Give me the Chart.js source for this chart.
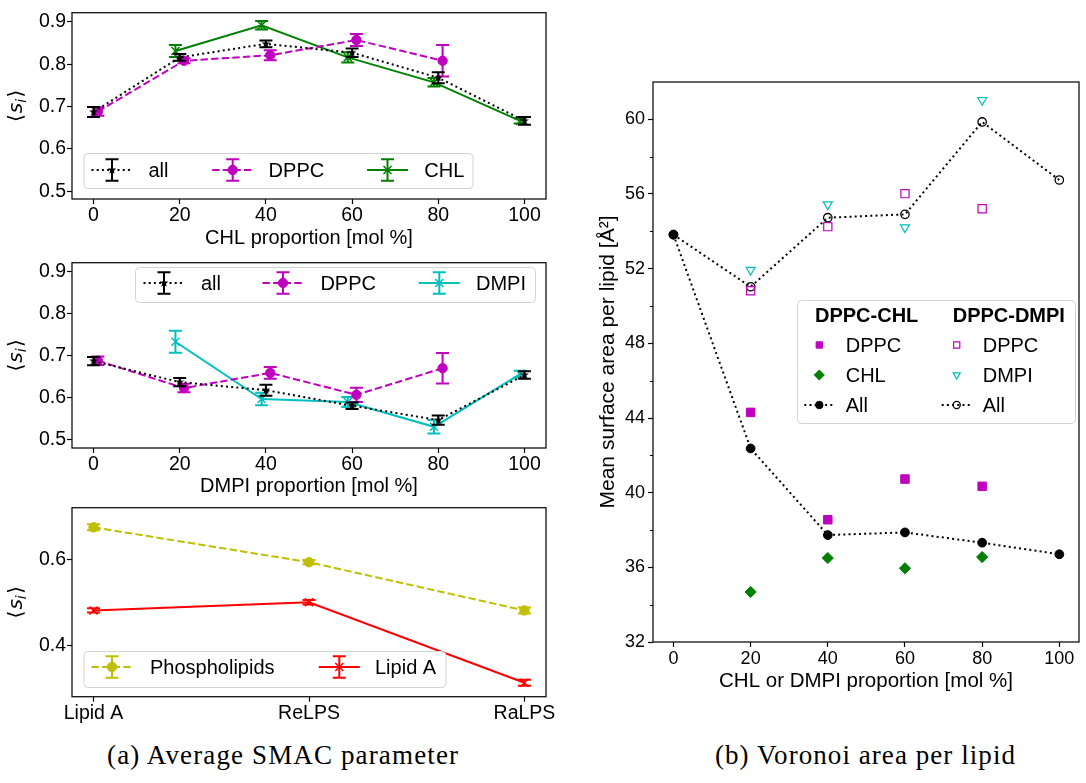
<!DOCTYPE html>
<html>
<head>
<meta charset="utf-8">
<script src="https://cdn.jsdelivr.net/npm/chart.js"></script>
<style>
html,body{margin:0;padding:0;background:#fff;}
body{width:1086px;height:783px;position:relative;overflow:hidden;}
canvas{position:absolute;}
.cap{position:absolute;font-family:"Liberation Serif","Times New Roman",serif;font-size:27px;line-height:27px;white-space:nowrap;color:#000;}
</style>
</head>
<body>
<canvas id="c1" width="560" height="252" style="left:0;top:0"></canvas>
<canvas id="c2" width="560" height="260" style="left:0;top:250px"></canvas>
<canvas id="c3" width="560" height="235" style="left:0;top:495px"></canvas>
<canvas id="c4" width="496" height="700" style="left:590px;top:0"></canvas>
<div class="cap" id="capA">(a) Average SMAC parameter</div>
<div class="cap" id="capB">(b) Voronoi area per lipid</div>
<script>
// ---------------- data ----------------
const proportion = [0, 20, 40, 60, 80, 100];
const propTicks = [0, 20, 40, 60, 80, 100];
const siTicks = [0.5, 0.6, 0.7, 0.8, 0.9];

// (a) top: DPPC-CHL mixtures
const chlAll      = [0.687, 0.816, 0.848, 0.827, 0.768, 0.666];
const chlAllErr   = [0.012, 0.008, 0.008, 0.010, 0.013, 0.009];
const chlDPPC     = [0.688, 0.808, 0.821, 0.857, 0.808, null];
const chlDPPCErr  = [0.010, 0.006, 0.012, 0.014, 0.037, null];
const chlCHL      = [null, 0.831, 0.892, 0.816, 0.757, 0.666];
const chlCHLErr   = [null, 0.014, 0.010, 0.012, 0.010, 0.006];

// (a) middle: DPPC-DMPI mixtures
const dmpiAll     = [0.687, 0.637, 0.618, 0.581, 0.547, 0.654];
const dmpiAllErr  = [0.010, 0.010, 0.013, 0.008, 0.011, 0.009];
const dmpiDPPC    = [0.688, 0.623, 0.659, 0.607, 0.670, null];
const dmpiDPPCErr = [0.010, 0.010, 0.014, 0.017, 0.036, null];
const dmpiDMPI    = [null, 0.733, 0.597, 0.590, 0.531, 0.656];
const dmpiDMPIErr = [null, 0.026, 0.015, 0.012, 0.016, 0.008];

// (a) bottom: LPS systems
const systems = ['Lipid A', 'ReLPS', 'RaLPS'];
const systemIdx = [0, 1, 2];
const lpsTicks = [0.4, 0.6];
const lpsPhospho    = [0.675, 0.594, 0.482];
const lpsPhosphoErr = [0.007, 0.005, 0.007];
const lpsLipidA     = [0.482, 0.501, 0.314];
const lpsLipidAErr  = [0.005, 0.005, 0.007];

// (b) Voronoi area per lipid
const areaTicks = [32, 36, 40, 44, 48, 52, 56, 60];
const areaMinorTicks = [34, 38, 42, 46, 50, 54, 58];
const chlAreaDPPC  = [null, 44.30, 38.55, 40.73, 40.34, null];
const chlAreaCHL   = [null, 34.68, 36.50, 35.95, 36.55, null];
const chlAreaAll   = [53.82, 42.37, 37.73, 37.87, 37.32, 36.70];
const dmpiAreaDPPC = [null, 50.82, 54.25, 56.02, 55.21, null];
const dmpiAreaDMPI = [null, 51.93, 55.44, 54.21, 61.03, null];
const dmpiAreaAll  = [53.82, 51.03, 54.73, 54.91, 59.86, 56.75];

// ---------------- style ----------------
const FONT = '"Liberation Sans", Arial, Helvetica, sans-serif';
Chart.defaults.font.family = FONT;
Chart.defaults.color = '#000';
Chart.defaults.animation = false;
Chart.defaults.events = [];
Chart.defaults.plugins.legend.display = false;
Chart.defaults.plugins.tooltip.enabled = false;

const COL = { black: '#000000', magenta: '#bf00bf', green: '#008000', cyan: '#00bfbf', olive: '#bfbf00', red: '#ff0000' };
const DOT = [2, 3.2], DASH = [7.4, 3.2];
const NONE = 'rgba(0,0,0,0)';

function starImage(color, ro, ri) {
  const s = Math.ceil(ro * 2 + 2);
  const c = document.createElement('canvas'); c.width = c.height = s;
  const g = c.getContext('2d'); g.fillStyle = color; g.beginPath();
  for (let k = 0; k < 10; k++) {
    const r = k % 2 ? ri : ro; const a = -Math.PI / 2 + k * Math.PI / 5;
    g.lineTo(s / 2 + r * Math.cos(a), s / 2 + r * Math.sin(a));
  }
  g.closePath(); g.fill(); return c;
}
const STAR = starImage('#000', 4.6, 1.9);

function pts(xs, ys, errs, off) {
  const out = [];
  xs.forEach((x, i) => { if (ys[i] !== null) out.push({ x: x + off, y: ys[i], e: errs ? errs[i] : null }); });
  return out;
}
function ds(label, data, o) {
  return Object.assign({
    label, data, showLine: true, borderColor: o.color, backgroundColor: o.color,
    borderWidth: 2, borderDash: o.dash || [], pointStyle: 'circle', pointRadius: 4.7,
    pointBackgroundColor: o.color, pointBorderColor: o.color, pointBorderWidth: 1, tension: 0
  }, o.extra || {});
}

// ---------------- plugins ----------------
const errorBars = {
  id: 'errorBars',
  afterDatasetDraw(chart, args) {
    const d = chart.data.datasets[args.index];
    const ys = chart.scales.y, ctx = chart.ctx;
    ctx.save(); ctx.strokeStyle = d.borderColor; ctx.setLineDash([]);
    args.meta.data.forEach((p, j) => {
      const v = d.data[j]; if (v.e == null) return;
      const y1 = ys.getPixelForValue(v.y + v.e), y2 = ys.getPixelForValue(v.y - v.e);
      ctx.lineWidth = 2;
      ctx.beginPath(); ctx.moveTo(p.x, y1); ctx.lineTo(p.x, y2); ctx.stroke();
      ctx.lineWidth = 2;
      ctx.beginPath();
      ctx.moveTo(p.x - 6.5, y1); ctx.lineTo(p.x + 6.5, y1);
      ctx.moveTo(p.x - 6.5, y2); ctx.lineTo(p.x + 6.5, y2);
      ctx.stroke();
    });
    ctx.restore();
  }
};
const frame = {
  id: 'frame',
  afterDatasetsDraw(chart) {
    const a = chart.chartArea, ctx = chart.ctx;
    ctx.save(); ctx.strokeStyle = '#111'; ctx.lineWidth = 1.3; ctx.setLineDash([]);
    ctx.strokeRect(a.left, a.top, a.right - a.left, a.bottom - a.top);
    ctx.restore();
  }
};
function marker(ctx, d, x, y, scale) {
  const style = d.pointStyle, r = d.pointRadius * (scale || 1);
  ctx.save(); ctx.setLineDash([]);
  ctx.fillStyle = d.pointBackgroundColor; ctx.strokeStyle = d.pointBorderColor; ctx.lineWidth = d.pointBorderWidth;
  if (style instanceof HTMLCanvasElement) { ctx.drawImage(style, x - style.width / 2, y - style.height / 2); ctx.restore(); return; }
  ctx.beginPath();
  const rot = (d.pointRotation || 0) * Math.PI / 180;
  if (style === 'rect') { const h = r * Math.SQRT1_2; ctx.rect(x - h, y - h, 2 * h, 2 * h); }
  else if (style === 'rectRot') { ctx.moveTo(x, y - r); ctx.lineTo(x + r, y); ctx.lineTo(x, y + r); ctx.lineTo(x - r, y); ctx.closePath(); }
  else if (style === 'triangle') {
    for (let k = 0; k < 3; k++) { const a = rot + k * 2 * Math.PI / 3; const px = x + Math.sin(a) * r, py = y - Math.cos(a) * r; if (k) ctx.lineTo(px, py); else ctx.moveTo(px, py); }
    ctx.closePath();
  } else if (style === 'crossRot') {
    const h = r * Math.SQRT1_2;
    ctx.moveTo(x - h, y - h); ctx.lineTo(x + h, y + h); ctx.moveTo(x - h, y + h); ctx.lineTo(x + h, y - h);
    ctx.stroke(); ctx.restore(); return;
  } else { ctx.arc(x, y, r, 0, 2 * Math.PI); }
  ctx.fill(); ctx.stroke(); ctx.restore();
}
function legendBox(ctx, b) {
  ctx.save(); ctx.beginPath();
  ctx.roundRect(b.x + 0.5, b.y + 0.5, b.w, b.h, 4);
  ctx.fillStyle = 'rgba(255,255,255,0.8)'; ctx.fill();
  ctx.strokeStyle = '#d3d3d3'; ctx.lineWidth = 1; ctx.stroke(); ctx.restore();
}
function errLegend(cfg) {
  return {
    id: 'errLegend',
    afterDraw(chart) {
      const ctx = chart.ctx; legendBox(ctx, cfg.box);
      cfg.items.forEach(([i, cx, tx]) => {
        const d = chart.data.datasets[i], cy = cfg.cy;
        ctx.save();
        ctx.strokeStyle = d.borderColor; ctx.lineWidth = d.borderWidth; ctx.setLineDash(d.borderDash);
        ctx.beginPath(); ctx.moveTo(cx - 20.5, cy); ctx.lineTo(cx + 20.5, cy); ctx.stroke();
        ctx.setLineDash([]); ctx.lineWidth = 2;
        ctx.beginPath(); ctx.moveTo(cx, cy - 10.8); ctx.lineTo(cx, cy + 10.8);
        ctx.moveTo(cx - 6.5, cy - 10.8); ctx.lineTo(cx + 6.5, cy - 10.8);
        ctx.moveTo(cx - 6.5, cy + 10.8); ctx.lineTo(cx + 6.5, cy + 10.8); ctx.stroke();
        ctx.restore();
        marker(ctx, d, cx, cy);
        ctx.save(); ctx.fillStyle = '#000'; ctx.font = '20px ' + FONT; ctx.textBaseline = 'middle'; ctx.textAlign = 'left';
        ctx.fillText(d.label, tx, cy + 1); ctx.restore();
      });
    }
  };
}
const siLabel = {
  id: 'siLabel',
  afterDraw(chart) {
    const a = chart.chartArea, ctx = chart.ctx, cy = (a.top + a.bottom) / 2;
    ctx.save(); ctx.translate(22, cy); ctx.rotate(-Math.PI / 2); ctx.fillStyle = '#000'; ctx.textBaseline = 'alphabetic';
    const parts = [['\u27E8', '20px "DejaVu Sans"', 0, 1], ['s', 'oblique 20px "DejaVu Sans"', 0, 0], ['i', 'oblique 14px "DejaVu Sans"', 3.5, 1.5], ['\u27E9', '20px "DejaVu Sans"', 0, 0]];
    let w = 0; parts.forEach(p => { ctx.font = p[1]; p.w = ctx.measureText(p[0]).width + p[3]; w += p.w; });
    let u = -w / 2; parts.forEach(p => { ctx.font = p[1]; ctx.fillText(p[0], u, p[2]); u += p.w; });
    ctx.restore();
  }
};

// ---------------- axes ----------------
function axis(o) {
  const a = {
    type: 'linear', position: o.pos, min: o.min, max: o.max,
    afterBuildTicks: s => { s.ticks = o.ticks.map(v => ({ value: v })); },
    afterFit: s => { if (o.pos === 'bottom') s.height = o.size; else s.width = o.size; },
    ticks: { font: { size: o.tickSize }, padding: o.tickPad, maxRotation: 0, autoSkip: false, color: '#000', callback: o.fmt },
    grid: { display: true, drawOnChartArea: false, drawTicks: true, tickLength: 5, tickWidth: 1.2, color: '#000' },
    border: { display: false },
    title: { display: false }
  };
  if (o.title) a.title = { display: true, text: o.title, color: '#000', font: { size: o.titleSize || 20 }, padding: o.titlePad };
  return a;
}
const fmt1 = v => v.toFixed(1);
const fmt0 = v => String(v);

// ---------------- (a) top ----------------
new Chart(document.getElementById('c1'), {
  type: 'scatter',
  data: { datasets: [
    ds('all', pts(proportion, chlAll, chlAllErr, 0), { color: COL.black, dash: DOT, extra: { pointStyle: STAR, pointRadius: 4 } }),
    ds('DPPC', pts(proportion, chlDPPC, chlDPPCErr, 1), { color: COL.magenta, dash: DASH }),
    ds('CHL', pts(proportion, chlCHL, chlCHLErr, -1), { color: COL.green, extra: { pointStyle: 'crossRot', pointRadius: 5.7, pointBorderWidth: 1.5 } })
  ] },
  options: {
    responsive: false, devicePixelRatio: 1,
    layout: { padding: { top: 8, right: 14, left: 0, bottom: 0 } },
    scales: {
      x: axis({ pos: 'bottom', min: -5, max: 105, ticks: propTicks, fmt: fmt0, size: 53, tickSize: 19.5, tickPad: 0, title: 'CHL proportion [mol %]', titlePad: { top: 0, bottom: 1.7 } }),
      y: axis({ pos: 'left', min: 0.4815, max: 0.9215, ticks: siTicks, fmt: fmt1, size: 72, tickSize: 19.5, tickPad: 1 })
    }
  },
  plugins: [errorBars, frame, siLabel, errLegend({ box: { x: 83.5, y: 153, w: 389, h: 35 }, cy: 170, items: [[0, 112, 148.5], [1, 232.7, 268.6], [2, 387.5, 424.3]] })]
});

// ---------------- (a) middle ----------------
new Chart(document.getElementById('c2'), {
  type: 'scatter',
  data: { datasets: [
    ds('all', pts(proportion, dmpiAll, dmpiAllErr, 0), { color: COL.black, dash: DOT, extra: { pointStyle: STAR, pointRadius: 4 } }),
    ds('DPPC', pts(proportion, dmpiDPPC, dmpiDPPCErr, 1), { color: COL.magenta, dash: DASH }),
    ds('DMPI', pts(proportion, dmpiDMPI, dmpiDMPIErr, -1), { color: COL.cyan, extra: { pointStyle: 'crossRot', pointRadius: 5.7, pointBorderWidth: 1.5 } })
  ] },
  options: {
    responsive: false, devicePixelRatio: 1,
    layout: { padding: { top: 7, right: 14, left: 0, bottom: 0 } },
    scales: {
      x: axis({ pos: 'bottom', min: -5, max: 105, ticks: propTicks, fmt: fmt0, size: 62, tickSize: 19.5, tickPad: 0, title: 'DMPI proportion [mol %]', titlePad: { top: 0, bottom: 11.3 } }),
      y: axis({ pos: 'left', min: 0.4807, max: 0.9206, ticks: siTicks, fmt: fmt1, size: 72, tickSize: 19.5, tickPad: 1 })
    }
  },
  plugins: [errorBars, frame, siLabel, errLegend({ box: { x: 135, y: 17, w: 400, h: 35 }, cy: 33, items: [[0, 164, 201], [1, 283, 320.4], [2, 439.3, 476]] })]
});

// ---------------- (a) bottom ----------------
new Chart(document.getElementById('c3'), {
  type: 'scatter',
  data: { datasets: [
    ds('Phospholipids', pts(systemIdx, lpsPhospho, lpsPhosphoErr, 0), { color: COL.olive, dash: DASH }),
    ds('Lipid A', pts(systemIdx, lpsLipidA, lpsLipidAErr, 0), { color: COL.red, extra: { pointStyle: 'crossRot', pointRadius: 5.7, pointBorderWidth: 1.5 } })
  ] },
  options: {
    responsive: false, devicePixelRatio: 1,
    layout: { padding: { top: 10, right: 14, left: 0, bottom: 0 } },
    scales: {
      x: axis({ pos: 'bottom', min: -0.1, max: 2.1, ticks: systemIdx, fmt: v => systems[v], size: 33.3, tickSize: 19.5, tickPad: 0 }),
      y: axis({ pos: 'left', min: 0.2817, max: 0.7206, ticks: lpsTicks, fmt: fmt1, size: 72, tickSize: 19.5, tickPad: 1 })
    }
  },
  plugins: [errorBars, frame, siLabel, errLegend({ box: { x: 83.5, y: 156, w: 362, h: 36 }, cy: 172, items: [[0, 112, 150], [1, 339.3, 375]] })]
});

// ---------------- (b) ----------------
const minorTicks = {
  id: 'minorTicks',
  afterDraw(chart) {
    const ys = chart.scales.y, a = chart.chartArea, ctx = chart.ctx;
    ctx.save(); ctx.strokeStyle = '#000'; ctx.lineWidth = 1;
    areaMinorTicks.forEach(v => { const y = Math.round(ys.getPixelForValue(v)) + 0.5; ctx.beginPath(); ctx.moveTo(a.left, y); ctx.lineTo(a.left - 3, y); ctx.stroke(); });
    ctx.restore();
  }
};
const areaLegend = {
  id: 'areaLegend',
  afterDraw(chart) {
    const ctx = chart.ctx;
    legendBox(ctx, { x: 207, y: 300, w: 278, h: 123 });
    ctx.save(); ctx.fillStyle = '#000'; ctx.textBaseline = 'middle'; ctx.textAlign = 'left';
    ctx.font = 'bold 20px ' + FONT;
    ctx.fillText('DPPC-CHL', 225, 316); ctx.fillText('DPPC-DMPI', 362.7, 316);
    ctx.font = '20px ' + FONT;
    const items = [[0, 229.3, 255.7, 345, 0.75], [1, 229.3, 255.7, 375, 0.9], [2, 229.3, 255.7, 405, 0.85], [3, 366.7, 392.7, 345, 0.75], [4, 366.7, 392.7, 375, 0.8], [5, 366.7, 392.7, 405, 0.85]];
    items.forEach(([i, mx, tx, y, sc]) => {
      const d = chart.data.datasets[i];
      if (d.showLine) {
        ctx.save(); ctx.strokeStyle = d.borderColor; ctx.lineWidth = d.borderWidth; ctx.setLineDash(d.borderDash);
        ctx.beginPath(); ctx.moveTo(mx - 15, y); ctx.lineTo(mx + 15, y); ctx.stroke(); ctx.restore();
      }
      marker(ctx, d, mx, y, sc);
      ctx.fillStyle = '#000'; ctx.fillText(d.legendText, tx, y + 1);
    });
    ctx.restore();
  }
};
new Chart(document.getElementById('c4'), {
  type: 'scatter',
  data: { datasets: [
    ds('DPPC-CHL DPPC', pts(proportion, chlAreaDPPC, null, 0), { color: COL.magenta, extra: { showLine: false, pointStyle: 'rect', pointRadius: 6, legendText: 'DPPC' } }),
    ds('DPPC-CHL CHL', pts(proportion, chlAreaCHL, null, 0), { color: COL.green, extra: { showLine: false, pointStyle: 'rectRot', pointRadius: 5.6, legendText: 'CHL' } }),
    ds('DPPC-CHL All', pts(proportion, chlAreaAll, null, 0), { color: COL.black, dash: DOT, extra: { pointRadius: 4.4, legendText: 'All' } }),
    ds('DPPC-DMPI DPPC', pts(proportion, dmpiAreaDPPC, null, 0), { color: COL.magenta, extra: { showLine: false, pointStyle: 'rect', pointRadius: 5.8, pointBackgroundColor: NONE, pointBorderWidth: 1.2, legendText: 'DPPC' } }),
    ds('DPPC-DMPI DMPI', pts(proportion, dmpiAreaDMPI, null, 0), { color: COL.cyan, extra: { showLine: false, pointStyle: 'triangle', pointRotation: 180, pointRadius: 5.2, pointBackgroundColor: NONE, pointBorderWidth: 1.2, legendText: 'DMPI' } }),
    ds('DPPC-DMPI All', pts(proportion, dmpiAreaAll, null, 0), { color: COL.black, dash: DOT, extra: { pointRadius: 4.2, pointBackgroundColor: NONE, pointBorderWidth: 1.3, legendText: 'All' } })
  ] },
  options: {
    responsive: false, devicePixelRatio: 1,
    layout: { padding: { top: 82, right: 1, left: 0, bottom: 0 } },
    scales: {
      x: axis({ pos: 'bottom', min: -5.3, max: 105.1, ticks: propTicks, fmt: fmt0, size: 58, tickSize: 18, tickPad: 0.8, title: 'CHL or DMPI proportion [mol %]', titleSize: 20.5, titlePad: { top: 0, bottom: 6.3 } }),
      y: axis({ pos: 'left', min: 32, max: 62, ticks: areaTicks, fmt: fmt0, size: 63, tickSize: 18, tickPad: 3, title: 'Mean surface area per lipid [Å²]', titleSize: 21, titlePad: { top: 5.5, bottom: 0 } })
    }
  },
  plugins: [frame, minorTicks, areaLegend]
});

// ---------------- captions ----------------
function placeCaption(id, left, right, baseline) {
  const el = document.getElementById(id);
  const w0 = el.getBoundingClientRect().width;
  const n = el.textContent.length;
  el.style.letterSpacing = (((right - left) - w0) / (n - 1)) + 'px';
  el.style.left = left + 'px';
  el.style.top = (baseline - 22.6) + 'px';
}
placeCaption('capA', 107, 458, 765);
placeCaption('capB', 715, 1015, 765);
</script>
</body>
</html>
